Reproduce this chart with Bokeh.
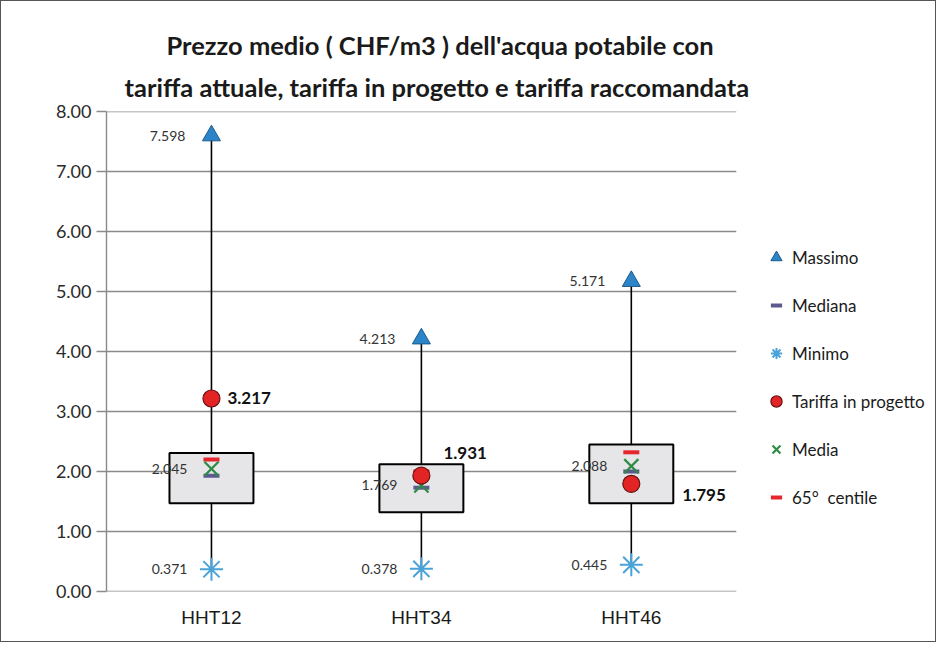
from bokeh.plotting import figure
from bokeh.models import (Range1d, ColumnDataSource, Legend, LegendItem,
                          Title, FixedTicker, NumeralTickFormatter)
from bokeh.core.properties import value
from bokeh.embed import file_html
from bokeh.resources import INLINE

# ---- data ----
categories = ["HHT12", "HHT34", "HHT46"]
massimo = [7.598, 4.213, 5.171]
minimo = [0.371, 0.378, 0.445]
media = [2.045, 1.769, 2.088]
mediana = [1.93, 1.73, 2.00]
centile65 = [2.20, 2.00, 2.32]
tariffa_progetto = [3.217, 1.931, 1.795]
quartile1 = [1.47, 1.32, 1.47]
quartile3 = [2.31, 2.12, 2.45]
y_ticks = [0, 1, 2, 3, 4, 5, 6, 7, 8]

massimo_labels = ["7.598", "4.213", "5.171"]
minimo_labels = ["0.371", "0.378", "0.445"]
media_labels = ["2.045", "1.769", "2.088"]
tariffa_labels = ["3.217", "1.931", "1.795"]

# label placement (screen px), kept apart from the data
tariffa_dx = [16, 22, 51]
tariffa_dy = [0, -23, 11]

LABEL_FONT = "Lato"

# categorical slots: one unit per category, centred on i + 0.5
xpos = [i + 0.5 for i in range(len(categories))]
n_cat = len(categories)

src = ColumnDataSource(dict(
    x=xpos, mx=massimo, mn=minimo, mean=media, med=mediana, c65=centile65,
    tp=tariffa_progetto, q1=quartile1, q3=quartile3,
    mx_l=massimo_labels, mn_l=minimo_labels, mean_l=media_labels, tp_l=tariffa_labels,
    tdx=tariffa_dx, tdy=tariffa_dy,
))
grid_src = ColumnDataSource(dict(y=y_ticks, x0=[0] * len(y_ticks), x1=[n_cat] * len(y_ticks)))

# the frame runs on to the right edge so the legend can sit inside it;
# the category area (0..3) occupies the left part, grid lines stop there
p = figure(width=936, height=642, x_range=Range1d(0, 3.93), y_range=Range1d(0, 8),
           output_backend="svg", toolbar_location=None, title=None,
           min_border_left=105, min_border_right=6, min_border_bottom=52, min_border_top=110)
p.outline_line_color = None
p.background_fill_color = "white"
p.border_fill_color = "white"
p.styles = {"border": "1px solid #555"}

# titles (second line added first so it sits closest to the plot)
t2 = Title(text="tariffa attuale, tariffa in progetto e tariffa raccomandata", align="left",
           text_font=LABEL_FONT, text_font_size="25.5px", text_font_style="bold",
           text_color="#1a1a1a", standoff=20, offset=18)
t1 = Title(text="Prezzo medio ( CHF/m3 ) dell'acqua potabile con", align="left",
           text_font=LABEL_FONT, text_font_size="25.5px", text_font_style="bold",
           text_color="#1a1a1a", standoff=0, offset=60)
p.add_layout(t2, "above")
p.add_layout(t1, "above")

# axes / grid
p.xgrid.grid_line_color = None
p.ygrid.grid_line_color = None
p.segment(x0="x0", y0="y", x1="x1", y1="y", source=grid_src,
          line_color="#8a8a8a", line_width=1.4)

p.yaxis.ticker = FixedTicker(ticks=y_ticks)
p.yaxis.formatter = NumeralTickFormatter(format="0.00")
p.yaxis.axis_line_color = "#8a8a8a"
p.yaxis.axis_line_width = 1.4
p.yaxis.major_tick_line_color = "#8a8a8a"
p.yaxis.major_tick_line_width = 1.4
p.yaxis.major_tick_out = 10
p.yaxis.major_tick_in = 0
p.yaxis.minor_tick_line_color = None
p.yaxis.major_label_standoff = 5
p.yaxis.major_label_text_font = LABEL_FONT
p.yaxis.major_label_text_font_size = "18px"
p.yaxis.major_label_text_color = "#2a2a2a"

p.xaxis.ticker = FixedTicker(ticks=xpos)
p.xaxis.major_label_overrides = {x: c for x, c in zip(xpos, categories)}
p.xaxis.axis_line_color = None
p.xaxis.major_tick_line_color = None
p.xaxis.minor_tick_line_color = None
p.xaxis.major_label_standoff = 9
p.xaxis.major_label_text_font = "Liberation Sans"
p.xaxis.major_label_text_font_size = "19px"
p.xaxis.major_label_text_color = "#1a1a1a"

# whiskers and boxes
p.segment(x0="x", y0="mn", x1="x", y1="mx", source=src, line_color="black", line_width=1.6)
p.vbar(x="x", width=0.4, bottom="q1", top="q3", source=src,
       fill_color="#e6e6e8", line_color="black", line_width=2)

# markers
r_c65 = p.scatter(x="x", y="c65", source=src, marker="dash", size=16,
                  line_color="#e5262c", line_width=4)
r_med = p.scatter(x="x", y="med", source=src, marker="dash", size=16,
                  line_color="#5e5890", line_width=4)
r_mean = p.scatter(x="x", y="mean", source=src, marker="x", size=20,
                   line_color="#2e8b45", line_width=2.2)
r_tp = p.scatter(x="x", y="tp", source=src, marker="circle", size=17,
                 fill_color="#e22424", line_color="#6a1010", line_width=1.2)
r_max = p.scatter(x="x", y="mx", source=src, marker="triangle", size=18,
                  fill_color="#2c85c8", line_color="#1d5a8a", line_width=1)
r_min = p.scatter(x="x", y="mn", source=src, marker="asterisk", size=23,
                  line_color="#4aa3d8", line_width=2)

# data labels
common = dict(source=src, text_baseline="middle", text_font=value(LABEL_FONT))
p.text(x="x", y="mx", text="mx_l", x_offset=-26, text_align="right",
       text_font_size="14px", text_color="#333333", **common)
p.text(x="x", y="mn", text="mn_l", x_offset=-24, text_align="right",
       text_font_size="14px", text_color="#333333", **common)
p.text(x="x", y="mean", text="mean_l", x_offset=-24, text_align="right",
       text_font_size="14px", text_color="#333333", **common)
p.text(x="x", y="tp", text="tp_l", x_offset="tdx", y_offset="tdy", text_align="left",
       text_font_size="17px", text_font_style="bold", text_color="#111111", **common)

legend = Legend(items=[
    LegendItem(label="Massimo", renderers=[r_max]),
    LegendItem(label="Mediana", renderers=[r_med]),
    LegendItem(label="Minimo", renderers=[r_min]),
    LegendItem(label="Tariffa in progetto", renderers=[r_tp]),
    LegendItem(label="Media", renderers=[r_mean]),
    LegendItem(label="65°  centile", renderers=[r_c65]),
], location=(656, 80), orientation="vertical", glyph_width=28, glyph_height=28,
    label_height=28, spacing=20, padding=0, margin=0, label_standoff=2,
    border_line_color=None, background_fill_alpha=0,
    label_text_font=LABEL_FONT, label_text_font_size="17px", label_text_color="#1a1a1a")
p.add_layout(legend)

open("out.html", "w").write(file_html(p, INLINE))
